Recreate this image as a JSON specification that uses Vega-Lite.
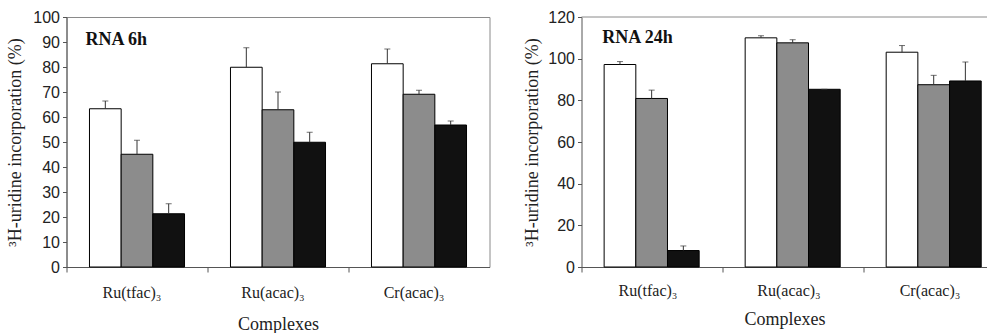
{
  "$schema": "https://vega.github.io/schema/vega-lite/v6.json",
  "background": "white",
  "padding": {"left": 5.5, "top": 8, "right": 0, "bottom": 0},
  "config": {
    "view": {"stroke": "#8a8a8a", "strokeWidth": 1},
    "concat": {"spacing": 33},
    "axis": {
      "grid": false,
      "domainColor": "#555555",
      "tickColor": "#555555",
      "labelColor": "#222222",
      "titleColor": "#222222",
      "titleFontWeight": "normal",
      "labelOverlap": false
    }
  },
  "datasets": {
    "rna6": [
      {"complex": "Ru(tfac)₃", "series": "a", "value": 63.3, "upper": 66.4},
      {"complex": "Ru(tfac)₃", "series": "b", "value": 45.1, "upper": 50.7},
      {"complex": "Ru(tfac)₃", "series": "c", "value": 21.3, "upper": 25.3},
      {"complex": "Ru(acac)₃", "series": "a", "value": 79.9, "upper": 87.7},
      {"complex": "Ru(acac)₃", "series": "b", "value": 62.9, "upper": 70.0},
      {"complex": "Ru(acac)₃", "series": "c", "value": 49.9, "upper": 53.9},
      {"complex": "Cr(acac)₃", "series": "a", "value": 81.3, "upper": 87.2},
      {"complex": "Cr(acac)₃", "series": "b", "value": 69.1, "upper": 70.7},
      {"complex": "Cr(acac)₃", "series": "c", "value": 56.8, "upper": 58.4}
    ],
    "rna24": [
      {"complex": "Ru(tfac)₃", "series": "a", "value": 97.2, "upper": 98.6},
      {"complex": "Ru(tfac)₃", "series": "b", "value": 80.9, "upper": 84.9},
      {"complex": "Ru(tfac)₃", "series": "c", "value": 7.9, "upper": 10.1},
      {"complex": "Ru(acac)₃", "series": "a", "value": 110.0, "upper": 111.0},
      {"complex": "Ru(acac)₃", "series": "b", "value": 107.6, "upper": 109.1},
      {"complex": "Ru(acac)₃", "series": "c", "value": 85.3, "upper": 85.3},
      {"complex": "Cr(acac)₃", "series": "a", "value": 103.1, "upper": 106.3},
      {"complex": "Cr(acac)₃", "series": "b", "value": 87.5, "upper": 92.0},
      {"complex": "Cr(acac)₃", "series": "c", "value": 89.3, "upper": 98.4}
    ]
  },
  "hconcat": [
    {
      "width": 423,
      "height": 250,
      "data": {"name": "rna6"},
      "encoding": {
        "x": {
          "field": "complex", "type": "nominal",
          "sort": ["Ru(tfac)₃", "Ru(acac)₃", "Cr(acac)₃"],
          "scale": {"paddingInner": 0.326, "paddingOuter": 0.163},
          "title": "Complexes",
          "axis": {"labelAngle": 0, "tickOffset": -70.5, "labelOffset": 65, "tickSize": 5, "labelPadding": 12, "titlePadding": 15,
                   "labelFont": "Liberation Serif", "labelFontSize": 16, "titleFont": "Liberation Serif", "titleFontSize": 18}
        },
        "xOffset": {"field": "series", "type": "nominal", "scale": {"paddingInner": 0, "paddingOuter": 0}},
        "y": {
          "type": "quantitative",
          "scale": {"domain": [0, 100], "nice": false},
          "title": "³H-uridine incorporation (%)",
          "axis": {"values": [0, 10, 20, 30, 40, 50, 60, 70, 80, 90, 100], "tickSize": 4, "labelPadding": 3, "titlePadding": 8,
                   "labelFont": "Liberation Sans", "labelFontSize": 16, "titleFont": "Liberation Serif", "titleFontSize": 18}
        }
      },
      "layer": [
        {
          "mark": {"type": "bar", "stroke": "#000000", "strokeWidth": 1},
          "encoding": {
            "y": {"field": "value"},
            "color": {"field": "series", "type": "nominal", "legend": null,
                      "scale": {"domain": ["a", "b", "c"], "range": ["#ffffff", "#8c8c8c", "#111111"]}}
          }
        },
        {
          "mark": {"type": "rule", "color": "#333333", "strokeWidth": 1},
          "encoding": {
            "y": {"field": "value"},
            "y2": {"field": "upper"}
          }
        },
        {
          "mark": {"type": "tick", "color": "#333333", "size": 6, "thickness": 1},
          "encoding": {
            "y": {"field": "upper"}
          }
        },
        {
          "data": {"values": [{"label": "RNA 6h", "ypos": 91}]},
          "mark": {"type": "text", "font": "Liberation Serif", "fontWeight": "bold", "fontSize": 18, "align": "left", "baseline": "middle", "dx": -4, "color": "#111111"},
          "encoding": {
            "x": {"datum": "Ru(tfac)₃"},
            "xOffset": {"value": 0},
            "y": {"field": "ypos"},
            "text": {"field": "label"}
          }
        }
      ]
    },
    {
      "width": 406,
      "height": 250,
      "data": {"name": "rna24"},
      "view": {"stroke": null},
      "encoding": {
        "x": {
          "field": "complex", "type": "nominal",
          "sort": ["Ru(tfac)₃", "Ru(acac)₃", "Cr(acac)₃"],
          "scale": {"paddingInner": 0.326, "paddingOuter": 0.1025, "align": 0.783},
          "title": "Complexes",
          "axis": {"labelAngle": 0, "tickOffset": -70.2, "labelOffset": 66, "tickSize": 5, "labelPadding": 10, "titlePadding": 12,
                   "labelFont": "Liberation Serif", "labelFontSize": 16, "titleFont": "Liberation Serif", "titleFontSize": 18}
        },
        "xOffset": {"field": "series", "type": "nominal", "scale": {"paddingInner": 0, "paddingOuter": 0}},
        "y": {
          "type": "quantitative",
          "scale": {"domain": [0, 120], "nice": false},
          "title": "³H-uridine incorporation (%)",
          "axis": {"values": [0, 20, 40, 60, 80, 100, 120], "tickSize": 4, "labelPadding": 3, "titlePadding": 6,
                   "labelFont": "Liberation Sans", "labelFontSize": 16, "titleFont": "Liberation Serif", "titleFontSize": 18}
        }
      },
      "layer": [
        {
          "data": {"values": [{"top": 120}]},
          "mark": {"type": "rule", "color": "#8a8a8a", "strokeWidth": 1},
          "encoding": {"x": null, "xOffset": null, "y": {"field": "top"}}
        },
        {
          "mark": {"type": "bar", "stroke": "#000000", "strokeWidth": 1},
          "encoding": {
            "y": {"field": "value"},
            "color": {"field": "series", "type": "nominal", "legend": null,
                      "scale": {"domain": ["a", "b", "c"], "range": ["#ffffff", "#8c8c8c", "#111111"]}}
          }
        },
        {
          "mark": {"type": "rule", "color": "#333333", "strokeWidth": 1},
          "encoding": {
            "y": {"field": "value"},
            "y2": {"field": "upper"}
          }
        },
        {
          "mark": {"type": "tick", "color": "#333333", "size": 6, "thickness": 1},
          "encoding": {
            "y": {"field": "upper"}
          }
        },
        {
          "data": {"values": [{"label": "RNA 24h", "ypos": 110}]},
          "mark": {"type": "text", "font": "Liberation Serif", "fontWeight": "bold", "fontSize": 18, "align": "left", "baseline": "middle", "dx": -2, "color": "#111111"},
          "encoding": {
            "x": {"datum": "Ru(tfac)₃"},
            "xOffset": {"value": 0},
            "y": {"field": "ypos"},
            "text": {"field": "label"}
          }
        }
      ]
    }
  ]
}
